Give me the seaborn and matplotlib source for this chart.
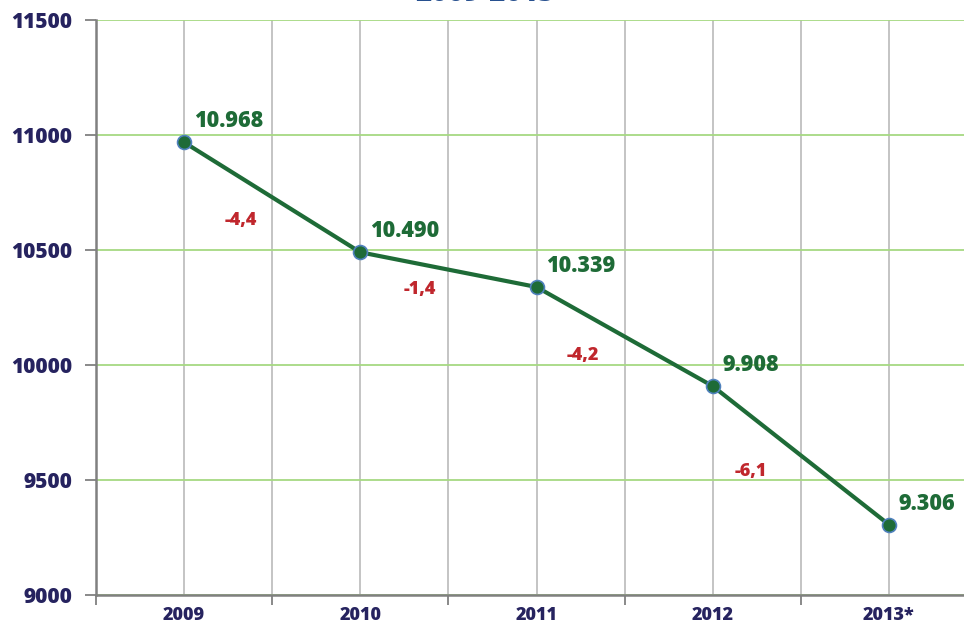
import matplotlib
matplotlib.use("Agg")
import matplotlib.pyplot as plt
import seaborn as sns
import pandas as pd
import numpy as np

years = ["2009", "2010", "2011", "2012", "2013*"]
values = [10968, 10490, 10339, 9908, 9306]
value_labels = ["10.968", "10.490", "10.339", "9.908", "9.306"]
changes = ["-4,4", "-1,4", "-4,2", "-6,1"]
title = "2009-2013"

sns.set_theme(style="white")
plt.rcParams['font.family'] = ['Open Sans', 'DejaVu Sans']

df = pd.DataFrame({"idx": np.arange(len(years)), "value": values})

fig = plt.figure(figsize=(9.64, 6.3), dpi=100)
ax = fig.add_axes([0.0996, 0.0556, 0.9139, 0.9127])

navy = "#26235F"
green_line = "#1E6B37"
green_txt = "#1E6B37"
red = "#C0272D"
W = 800

sns.lineplot(data=df, x="idx", y="value", ax=ax, color=green_line, linewidth=3,
             marker="o", markersize=10, markerfacecolor=green_line,
             markeredgecolor="#4F81BD", markeredgewidth=1.2, zorder=5)

ax.set_xlim(-0.5, len(years) - 0.5)
ax.set_ylim(9000, 11500)
ax.set_yticks(np.arange(9000, 11501, 500))
ax.set_yticklabels([str(v) for v in range(9000, 11501, 500)],
                   fontsize=15, fontweight=W, color=navy)

major_x = np.arange(-0.5, len(years), 1.0)
ax.set_xticks(major_x)
ax.set_xticklabels([""] * len(major_x))
ax.set_xticks(np.arange(len(years)), minor=True)
ax.set_xticklabels(years, minor=True, fontsize=13, fontweight=W, color=navy)
ax.tick_params(axis="x", which="major", length=7, width=1.3, color="#808080", direction="out", bottom=True)
ax.tick_params(axis="x", which="minor", length=0, pad=9, bottom=True)
ax.tick_params(axis="y", length=8, width=1.3, color="#808080", direction="out", pad=9, left=True)

ax.set_xlabel("")
ax.set_ylabel("")

ax.grid(False)
ax.xaxis.grid(True, which="both", color="#BFBFBF", linewidth=1.3, zorder=0)
ax.yaxis.grid(True, which="major", color="#A6D982", linewidth=1.3, zorder=0)
ax.set_axisbelow(True)

for s in ["top", "right"]:
    ax.spines[s].set_visible(False)
for s in ["left", "bottom"]:
    ax.spines[s].set_color("#808080")
    ax.spines[s].set_linewidth(1.8)

for i, (v, lab) in enumerate(zip(values, value_labels)):
    ax.annotate(lab, (i, v), xytext=(10, 9), textcoords="offset pixels",
                ha="left", va="bottom", fontsize=15.5, fontweight=W, color=green_txt, zorder=6)

change_pos = [(0.32, 10626), (1.335, 10326), (2.26, 10043), (3.216, 9535)]
for lab, (x, y) in zip(changes, change_pos):
    ax.text(x, y, lab, ha="center", va="center", fontsize=13, fontweight=W, color=red, zorder=6)

fig.text(0.503, 0.999, title, ha="center", va="baseline", fontsize=20,
         fontweight=W, color="#27508F")

fig.savefig("out.png", dpi=100)
